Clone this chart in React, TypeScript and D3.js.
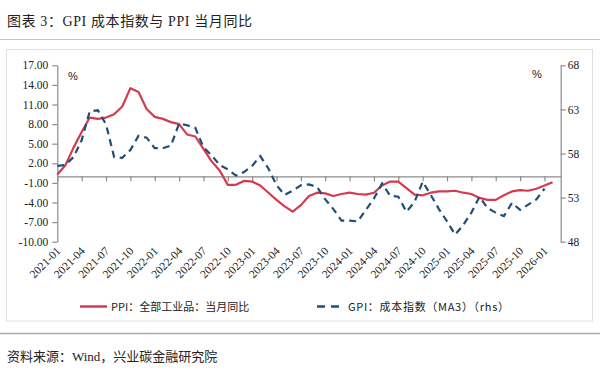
import React, { useEffect, useRef } from 'react';
import * as d3 from 'd3';

// x positions are month indexes: 0 = 2021-01, axis runs to 2026-03
const tickLabels = [
  '2021-01', '2021-04', '2021-07', '2021-10',
  '2022-01', '2022-04', '2022-07', '2022-10',
  '2023-01', '2023-04', '2023-07', '2023-10',
  '2024-01', '2024-04', '2024-07', '2024-10',
  '2025-01', '2025-04', '2025-07', '2025-10',
  '2026-01',
];

// PPI: all industrial products, YoY %, 2021-01 .. 2026-02
const ppi = [
  0.3, 1.7, 4.4, 6.8, 9.0, 8.8, 9.0, 9.5, 10.7, 13.5, 12.9, 10.3,
  9.1, 8.8, 8.3, 8.0, 6.4, 6.1, 4.2, 2.3, 0.9, -1.3, -1.3, -0.7,
  -0.8, -1.4, -2.5, -3.6, -4.6, -5.4, -4.4, -3.0, -2.5, -2.6, -3.0, -2.7,
  -2.5, -2.7, -2.8, -2.5, -1.4, -0.8, -0.8, -1.8, -2.8, -2.9, -2.5, -2.3,
  -2.3, -2.2, -2.5, -2.7, -3.3, -3.6, -3.6, -2.9, -2.3, -2.1, -2.2, -1.9,
  -1.4, -0.9,
];

// GPI cost index (MA3), right axis, 2021-01 .. 2026-01
const gpi = [
  56.6, 56.7, 57.6, 59.5, 62.8, 62.9, 61.3, 57.6, 57.5, 58.4, 60.0, 59.8,
  58.6, 58.6, 58.9, 61.4, 61.2, 60.9, 58.7, 57.8, 56.7, 56.2, 55.5, 55.9,
  56.6, 57.7, 56.3, 54.4, 53.3, 53.8, 54.4, 54.5, 54.2, 52.8, 51.7, 50.4,
  50.4, 50.3, 51.6, 52.9, 54.6, 53.2, 53.1, 51.4, 52.5, 54.8, 53.3, 51.7,
  50.3, 48.8, 49.9, 51.3, 53.1, 51.8, 51.3, 50.9, 52.4, 51.6, 52.2, 52.8,
  54.0,
];

const leftTicks = [-10, -7, -4, -1, 2, 5, 8, 11, 14, 17];
const rightTicks = [48, 53, 58, 63, 68];

const W = 600;
const H = 371;
const RED = '#d63a50';
const BLUE = '#1f4e79';
const AXIS = '#8c8c8c';
const SERIF = "'Liberation Serif', 'Noto Sans CJK SC', serif";
const SANS = "'Liberation Sans', 'Noto Sans CJK SC', sans-serif";
const CJK = "'Noto Sans CJK SC', sans-serif";

const App: React.FC = () => {
  const ref = useRef<SVGSVGElement | null>(null);

  useEffect(() => {
    const svg = d3.select(ref.current!);
    svg.selectAll('*').remove();

    const plot = { left: 57.3, right: 560.7, top: 65.3, bottom: 241.7 };

    const x = d3.scaleLinear().domain([0, 62]).range([plot.left, plot.right]);
    const yL = d3.scaleLinear().domain([-10, 17]).range([plot.bottom, plot.top]);
    const yR = d3.scaleLinear().domain([48, 68]).range([plot.bottom, plot.top]);

    // frame pieces
    svg.append('rect').attr('width', W).attr('height', H).attr('fill', '#fff');
    svg
      .append('text')
      .attr('x', 7)
      .attr('y', 26)
      .attr('font-family', SERIF)
      .attr('font-size', 14)
      .attr('letter-spacing', 0.6)
      .attr('fill', '#222')
      .text('图表 3：GPI 成本指数与 PPI 当月同比');
    svg.append('line').attr('x1', 0).attr('x2', W).attr('y1', 39.5).attr('y2', 39.5)
      .attr('stroke', '#c4c4c4').attr('stroke-width', 1.2);
    svg.append('rect').attr('x', 6.5).attr('y', 49.5).attr('width', 586).attr('height', 271.5)
      .attr('fill', 'none').attr('stroke', '#e0e0e0');
    svg.append('line').attr('x1', 0).attr('x2', W).attr('y1', 333.5).attr('y2', 333.5)
      .attr('stroke', '#a8a8a8').attr('stroke-width', 1.5);
    svg
      .append('text')
      .attr('x', 7)
      .attr('y', 361)
      .attr('font-family', SERIF)
      .attr('font-size', 13)
      .attr('fill', '#222')
      .text('资料来源：Wind，兴业碳金融研究院');

    // left axis
    const gl = svg
      .append('g')
      .attr('transform', `translate(${plot.left},0)`)
      .call(
        d3.axisLeft(yL)
          .tickValues(leftTicks)
          .tickFormat((d) => (d as number).toFixed(2))
          .tickSize(5)
          .tickSizeOuter(0)
          .tickPadding(4)
      );
    // right axis
    const gr = svg
      .append('g')
      .attr('transform', `translate(${plot.right},0)`)
      .call(d3.axisRight(yR).tickValues(rightTicks).tickSize(5).tickSizeOuter(0).tickPadding(2));

    // x axis sits on zero of the left scale
    const gx = svg
      .append('g')
      .attr('transform', `translate(0,${yL(0)})`)
      .call(
        d3.axisBottom(x)
          .tickValues(d3.range(0, tickLabels.length * 3, 3))
          .tickFormat(() => '')
          .tickSize(5)
          .tickSizeOuter(0)
      );

    [gl, gr, gx].forEach((g) => {
      g.select('.domain').attr('stroke', AXIS).attr('stroke-width', 1.2);
      g.selectAll('.tick line').attr('stroke', AXIS).attr('stroke-width', 1.2);
      g.selectAll('.tick text')
        .attr('fill', '#222')
        .attr('font-family', SERIF)
        .attr('font-size', 11.5);
    });

    // rotated month labels along the bottom
    svg
      .append('g')
      .selectAll('text')
      .data(tickLabels)
      .enter()
      .append('text')
      .attr('transform', (_d, i) => `translate(${x(i * 3) + 4},${plot.bottom + 10}) rotate(-45)`)
      .attr('text-anchor', 'end')
      .attr('font-family', SERIF)
      .attr('font-size', 11.5)
      .attr('fill', '#222')
      .text((d) => d);

    // unit marks
    svg.append('text').attr('x', 68).attr('y', 80).attr('font-family', SANS)
      .attr('font-size', 11).attr('fill', '#222').text('%');
    svg.append('text').attr('x', 532).attr('y', 78).attr('font-family', SANS)
      .attr('font-size', 11).attr('fill', '#222').text('%');

    // series
    const ppiLine = d3.line<number>().x((_d, i) => x(i)).y((d) => yL(d));
    const gpiLine = d3.line<number>().x((_d, i) => x(i)).y((d) => yR(d));

    svg.append('path').datum(ppi).attr('d', ppiLine).attr('fill', 'none')
      .attr('stroke', RED).attr('stroke-width', 2.2).attr('stroke-linejoin', 'round');
    svg.append('path').datum(gpi).attr('d', gpiLine).attr('fill', 'none')
      .attr('stroke', BLUE).attr('stroke-width', 2.2).attr('stroke-dasharray', '7,5');

    // legend
    const ly = 306.5;
    svg.append('line').attr('x1', 80).attr('x2', 107).attr('y1', ly).attr('y2', ly)
      .attr('stroke', RED).attr('stroke-width', 2.5);
    svg.append('text').attr('x', 111).attr('y', ly + 4).attr('font-family', CJK)
      .attr('font-size', 11).attr('fill', '#222').text('PPI：全部工业品：当月同比');
    svg.append('line').attr('x1', 317).attr('x2', 341).attr('y1', ly).attr('y2', ly)
      .attr('stroke', BLUE).attr('stroke-width', 2.5).attr('stroke-dasharray', '8,6');
    svg.append('text').attr('x', 348).attr('y', ly + 4).attr('font-family', CJK)
      .attr('font-size', 11).attr('letter-spacing', 0.7).attr('fill', '#222')
      .text('GPI：成本指数（MA3）（rhs）');
  }, []);

  return (
    <div style={{ position: 'absolute', left: 0, top: 0 }}>
      <svg ref={ref} width={W} height={H} style={{ display: 'block' }} />
    </div>
  );
};

export default App;
